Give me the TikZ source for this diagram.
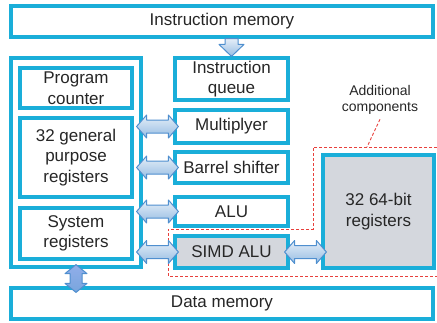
\documentclass[tikz,border=0pt]{standalone}
\usepackage{fontspec}
\setmainfont{Liberation Sans}
\usetikzlibrary{calc}
\definecolor{boxline}{HTML}{1AAED9}
\definecolor{boxgray}{HTML}{D4D7DD}
\definecolor{txt}{HTML}{262626}
\definecolor{dashred}{HTML}{E8403C}
\definecolor{arrline}{HTML}{4F8FCF}
\tikzset{
  box/.style={draw=boxline, line width=3.2pt, fill=white, text=txt, align=center,
    inner sep=0pt, font=\fontsize{17}{20.5}\selectfont},
  graybox/.style={box, fill=boxgray},
  blockarrow/.style={draw=arrline, line width=1pt, line join=round,
    top color=#1, bottom color=#1!40!arrline!90},
  blockarrow/.default={white!85!arrline},
  callout/.style={draw=dashred, line width=0.9pt, dash pattern=on 3pt off 2pt},
}
% horizontal double block arrow between two points at the height of the first
\newcommand\hdarrow[2]{%
  \path[blockarrow] let \p1=(#1), \p2=(#2) in
    (\x1,\y1) -- (\x1+10pt,\y1+11.5pt) -- (\x1+10pt,\y1+6.5pt)
    -- (\x2-10pt,\y1+6.5pt) -- (\x2-10pt,\y1+11.5pt) -- (\x2,\y1)
    -- (\x2-10pt,\y1-11.5pt) -- (\x2-10pt,\y1-6.5pt)
    -- (\x1+10pt,\y1-6.5pt) -- (\x1+10pt,\y1-11.5pt) -- cycle;}
\begin{document}
\begin{tikzpicture}[x=1pt,y=-1pt]
\useasboundingbox (0,0) rectangle (437,322);

% memories
\node[box, minimum width=422pt, minimum height=31pt] (imem) at (222,21.5) {Instruction memory};
\node[box, minimum width=422pt, minimum height=31pt] (dmem) at (222,303.5) {Data memory};

% register file block
\node[box, minimum width=130pt, minimum height=209pt] (outer) at (76,162.5) {};
\node[box, minimum width=112pt, minimum height=40pt] (pc) at (76,88) {Program\\counter};
\node[box, minimum width=112pt, minimum height=79pt] (gpr) at (76,157.5) {32 general\\purpose\\registers};
\node[box, minimum width=112pt, minimum height=51pt] (sys) at (76,233.5) {System\\registers};

% execution units
\node[box, minimum width=113pt, minimum height=42pt] (iq) at (231.5,79) {Instruction\\queue};
\node[box, minimum width=113pt, minimum height=33pt] (mul) at (231.5,126.5) {Multiplyer};
\node[box, minimum width=113pt, minimum height=31pt] (bar) at (231.5,167.5) {Barrel shifter};
\node[box, minimum width=113pt, minimum height=29pt] (alu) at (231.5,211.5) {ALU};
\node[graybox, minimum width=113pt, minimum height=32pt] (simd) at (231.5,252) {SIMD ALU};
\node[graybox, minimum width=111pt, minimum height=113pt] (reg64) at (378.5,211.5) {32 64-bit\\registers};

% additional components outline
\coordinate (r1) at (437,147);
\coordinate (r2) at (437,276);
\draw[callout] (r1) -- (313,147) -- (313,229) -- (168,229) -- (168,276) -- (r2);
\node[text=txt, align=center, font=\fontsize{14}{16.5}\selectfont] (addl) at (380,100) {Additional\\components};
\coordinate (addtip) at (367,147);
\draw[callout] ($(addl.south)+(0,1)$) -- (addtip);

% fetch arrow
\path[blockarrow] let \p1=(imem.south -| iq.north), \p2=(iq.north) in
  (\x1-6.5pt,\y1) -- (\x1+6.5pt,\y1) -- (\x1+6.5pt,\y2+12pt) -- (\x1+12.5pt,\y2+12pt)
  -- (\x2,\y2) -- (\x1-12.5pt,\y2+12pt) -- (\x1-6.5pt,\y2+12pt) -- cycle;

% register file to units
\hdarrow{$(outer.east |- mul.west)+(-6,0)$}{$(mul.west)+(5,0)$}
\hdarrow{$(outer.east |- bar.west)+(-6,0)$}{$(bar.west)+(5,0)$}
\hdarrow{$(outer.east |- alu.west)+(-6,0)$}{$(alu.west)+(5,0)$}
\hdarrow{$(outer.east |- simd.west)+(-6,0)$}{$(simd.west)+(5,0)$}
\hdarrow{$(simd.east)+(-5,0)$}{$(reg64.west |- simd.east)+(5,0)$}

% register file to data memory
\coordinate (dtop) at ($(outer.south)+(0,-4)$);
\coordinate (dbot) at ($(outer.south |- dmem.north)+(0,6)$);
\path[blockarrow=white!78!blue!55!arrline] let \p1=(dtop), \p2=(dbot) in
  (\x1,\y1) -- (\x1+11pt,\y1-9pt) -- (\x1+6pt,\y1-9pt) -- (\x1+6pt,\y2+9pt)
  -- (\x1+11pt,\y2+9pt) -- (\x1,\y2) -- (\x1-11pt,\y2+9pt) -- (\x1-6pt,\y2+9pt)
  -- (\x1-6pt,\y1-9pt) -- (\x1-11pt,\y1-9pt) -- cycle;
\end{tikzpicture}
\end{document}
